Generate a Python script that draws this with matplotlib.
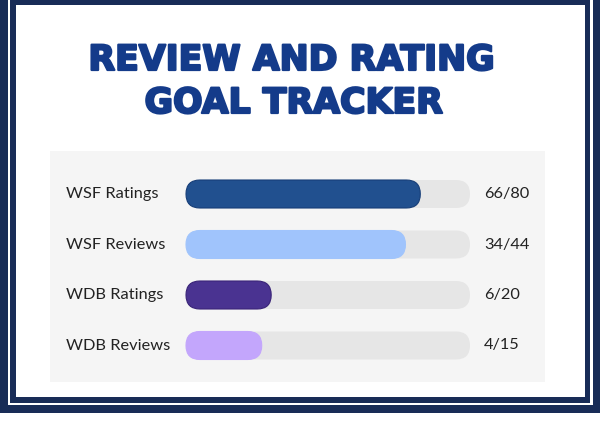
import matplotlib
matplotlib.use("Agg")
import matplotlib.pyplot as plt
import matplotlib.patheffects as pe
from matplotlib.patches import Rectangle, FancyBboxPatch

title_lines = ["REVIEW AND RATING", "GOAL TRACKER"]
categories = ["WSF Ratings", "WSF Reviews", "WDB Ratings", "WDB Reviews"]
current = [66, 34, 6, 4]
goals = [80, 44, 20, 15]
colors = ["#21508F", "#A0C4FC", "#4A3391", "#C3A6FC"]
edge_colors = ["#173E78", "#A0C4FC", "#3A2478", "#C3A6FC"]

W, H = 600, 425
fig = plt.figure(figsize=(6, 4.25), dpi=100)
ax = fig.add_axes([0, 0, 1, 1])
ax.set_xlim(0, W)
ax.set_ylim(H, 0)
ax.axis("off")

navy = "#182C57"
# frame
ax.add_patch(Rectangle((0, -20), 600, 433, color=navy, lw=0))
ax.add_patch(Rectangle((8, -20), 585, 425, color="white", lw=0))
ax.add_patch(Rectangle((10, -20), 580, 423, color=navy, lw=0))
ax.add_patch(Rectangle((16, 5), 569, 392, color="white", lw=0))

# title
tcol = "#143B8A"
effects = [pe.withStroke(linewidth=1.6, foreground=tcol)]
ax.text(292, 70, title_lines[0], ha="center", va="baseline", fontsize=25,
        fontweight="bold", family="DejaVu Sans", color=tcol, path_effects=effects)
ax.text(294, 113, title_lines[1], ha="center", va="baseline", fontsize=25,
        fontweight="bold", family="DejaVu Sans", color=tcol, path_effects=effects)

# panel
ax.add_patch(Rectangle((50, 151), 495, 231, color="#F5F5F5", lw=0))

x0, x1 = 186, 470
bh = 28
track_w = x1 - x0
for i, (cat, cur, goal) in enumerate(zip(categories, current, goals)):
    yc = 194 + i * 50.5
    ax.add_patch(FancyBboxPatch((x0, yc - bh / 2), track_w, bh,
                                boxstyle=f"round,pad=0,rounding_size={bh/2}",
                                fc="#E6E6E6", ec="none"))
    w = track_w * cur / goal
    ax.add_patch(FancyBboxPatch((x0, yc - bh / 2), w, bh,
                                boxstyle=f"round,pad=0,rounding_size={bh/2}",
                                fc=colors[i], ec=edge_colors[i], lw=0.8))
    ax.text(66, yc, cat, ha="left", va="center", fontsize=11.8,
            family="Lato", color="#222222")
    ax.text(484, yc, f"{cur}/{goal}", ha="left", va="center", fontsize=11.8,
            family="Lato", color="#222222")

fig.savefig("out.png", dpi=100)
